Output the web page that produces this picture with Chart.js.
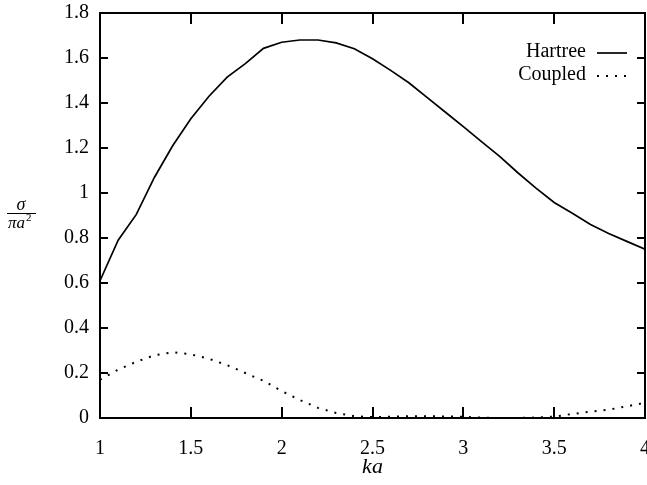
<!DOCTYPE html>
<html>
<head>
<meta charset="utf-8">
<script src="https://cdn.jsdelivr.net/npm/chart.js@4.4.0/dist/chart.umd.min.js"></script>
<style>
  html, body { margin: 0; padding: 0; background: #fff; }
  #wrap { width: 647px; height: 485px; }
</style>
</head>
<body>
<div id="wrap"><canvas id="grafico" width="647" height="485"></canvas></div>
<script>
// ka sampled every 0.1
const kaValues = [1.0, 1.1, 1.2, 1.3, 1.4, 1.5, 1.6, 1.7, 1.8, 1.9, 2.0, 2.1, 2.2, 2.3, 2.4, 2.5,
                  2.6, 2.7, 2.8, 2.9, 3.0, 3.1, 3.2, 3.3, 3.4, 3.5, 3.6, 3.7, 3.8, 3.9, 4.0];
const hartree = [0.61, 0.79, 0.905, 1.07, 1.21, 1.33, 1.43, 1.515, 1.575, 1.643, 1.67, 1.68, 1.68, 1.667, 1.641, 1.597,
                 1.545, 1.49, 1.425, 1.36, 1.295, 1.228, 1.163, 1.09, 1.022, 0.958, 0.91, 0.86, 0.82, 0.785, 0.75];
const coupled = [0.17, 0.215, 0.25, 0.279, 0.292, 0.283, 0.263, 0.235, 0.2, 0.165, 0.12, 0.08, 0.045, 0.022, 0.008, 0.004,
                 0.006, 0.008, 0.008, 0.007, 0.005, 0.002, 0.0, 0.0, 0.002, 0.006, 0.018, 0.028, 0.037, 0.052, 0.068];
const xTicks = [1, 1.5, 2, 2.5, 3, 3.5, 4];
const yTicks = [0, 0.2, 0.4, 0.6, 0.8, 1, 1.2, 1.4, 1.6, 1.8];
const seriesNames = ['Hartree', 'Coupled'];

const SERIF = '"Liberation Serif", "DejaVu Serif", serif';

const toPoints = (ys) => kaValues.map((x, i) => ({ x: x, y: ys[i] }));

// frame, inward ticks on all sides, legend and y title
const marcoPlugin = {
    id: 'marco',
    afterDraw(chart) {
        const ctx = chart.ctx;
        const a = chart.chartArea;
        const sx = chart.scales.x;
        const sy = chart.scales.y;
        ctx.save();
        ctx.strokeStyle = '#000';
        ctx.lineWidth = 2;
        ctx.strokeRect(a.left, a.top, a.right - a.left, a.bottom - a.top);

        ctx.beginPath();
        xTicks.forEach(v => {
            const px = Math.round(sx.getPixelForValue(v));
            ctx.moveTo(px, a.bottom); ctx.lineTo(px, a.bottom - 11);
            ctx.moveTo(px, a.top); ctx.lineTo(px, a.top + 11);
        });
        yTicks.forEach(v => {
            const py = Math.round(sy.getPixelForValue(v));
            ctx.moveTo(a.left, py); ctx.lineTo(a.left + 8, py);
            ctx.moveTo(a.right, py); ctx.lineTo(a.right - 8, py);
        });
        ctx.stroke();

        // legend
        ctx.fillStyle = '#000';
        ctx.font = '20px ' + SERIF;
        ctx.textAlign = 'right';
        ctx.textBaseline = 'middle';
        const rows = [52, 75];
        chart.data.datasets.forEach((ds, i) => {
            ctx.fillText(ds.label, 586, rows[i]);
            ctx.beginPath();
            ctx.lineWidth = ds.borderWidth;
            ctx.setLineDash(ds.borderDash || []);
            ctx.moveTo(597, rows[i] + 1);
            ctx.lineTo(627, rows[i] + 1);
            ctx.stroke();
            ctx.setLineDash([]);
        });

        // y title sigma / pi a^2
        ctx.textAlign = 'center';
        ctx.textBaseline = 'alphabetic';
        ctx.font = 'italic 18px ' + SERIF;
        ctx.fillText('σ', 21, 210);
        ctx.lineWidth = 1;
        ctx.beginPath();
        ctx.moveTo(7, 213.5); ctx.lineTo(36, 213.5);
        ctx.stroke();
        ctx.textAlign = 'left';
        ctx.font = 'italic 17px ' + SERIF;
        ctx.fillText('πa', 8, 228);
        const w = ctx.measureText('πa').width;
        ctx.font = '11px ' + SERIF;
        ctx.fillText('2', 8 + w + 1, 221);
        ctx.restore();
    }
};

const grafico = document.getElementById('grafico').getContext('2d');

new Chart(grafico, {
    type: 'line',
    data: {
        datasets: [{
            label: seriesNames[0],
            data: toPoints(hartree),
            borderColor: '#000',
            borderWidth: 1.7,
            pointRadius: 0,
            tension: 0,
            fill: false
        }, {
            label: seriesNames[1],
            data: toPoints(coupled),
            borderColor: '#000',
            borderWidth: 2,
            borderDash: [2, 7],
            pointRadius: 0,
            tension: 0,
            fill: false
        }]
    },
    options: {
        responsive: false,
        animation: false,
        events: [],
        layout: { padding: { top: 13, right: 2, left: 0, bottom: 0 } },
        plugins: {
            legend: { display: false },
            tooltip: { enabled: false },
            title: { display: false }
        },
        scales: {
            x: {
                type: 'linear',
                min: 1,
                max: 4,
                grid: { display: false, drawTicks: false },
                border: { display: false },
                afterBuildTicks: (s) => { s.ticks = xTicks.map(v => ({ value: v })); },
                afterFit: (s) => { s.height = 67; s.paddingLeft = 0; s.paddingRight = 0; },
                ticks: {
                    color: '#000',
                    padding: 19,
                    maxRotation: 0,
                    font: { family: SERIF, size: 20 },
                    callback: (v) => String(v)
                },
                title: {
                    display: true,
                    text: 'ka',
                    color: '#000',
                    font: { family: SERIF, size: 22, style: 'italic' },
                    padding: { top: 0, bottom: 5 }
                }
            },
            y: {
                min: 0,
                max: 1.8,
                grid: { display: false, drawTicks: false },
                border: { display: false },
                afterBuildTicks: (s) => { s.ticks = yTicks.map(v => ({ value: v })); },
                afterFit: (s) => { s.width = 100; s.paddingTop = 0; s.paddingBottom = 0; },
                ticks: {
                    color: '#000',
                    padding: 11,
                    font: { family: SERIF, size: 20 },
                    callback: (v) => String(Number(v.toFixed(1)))
                }
            }
        }
    },
    plugins: [marcoPlugin]
});
</script>
</body>
</html>
